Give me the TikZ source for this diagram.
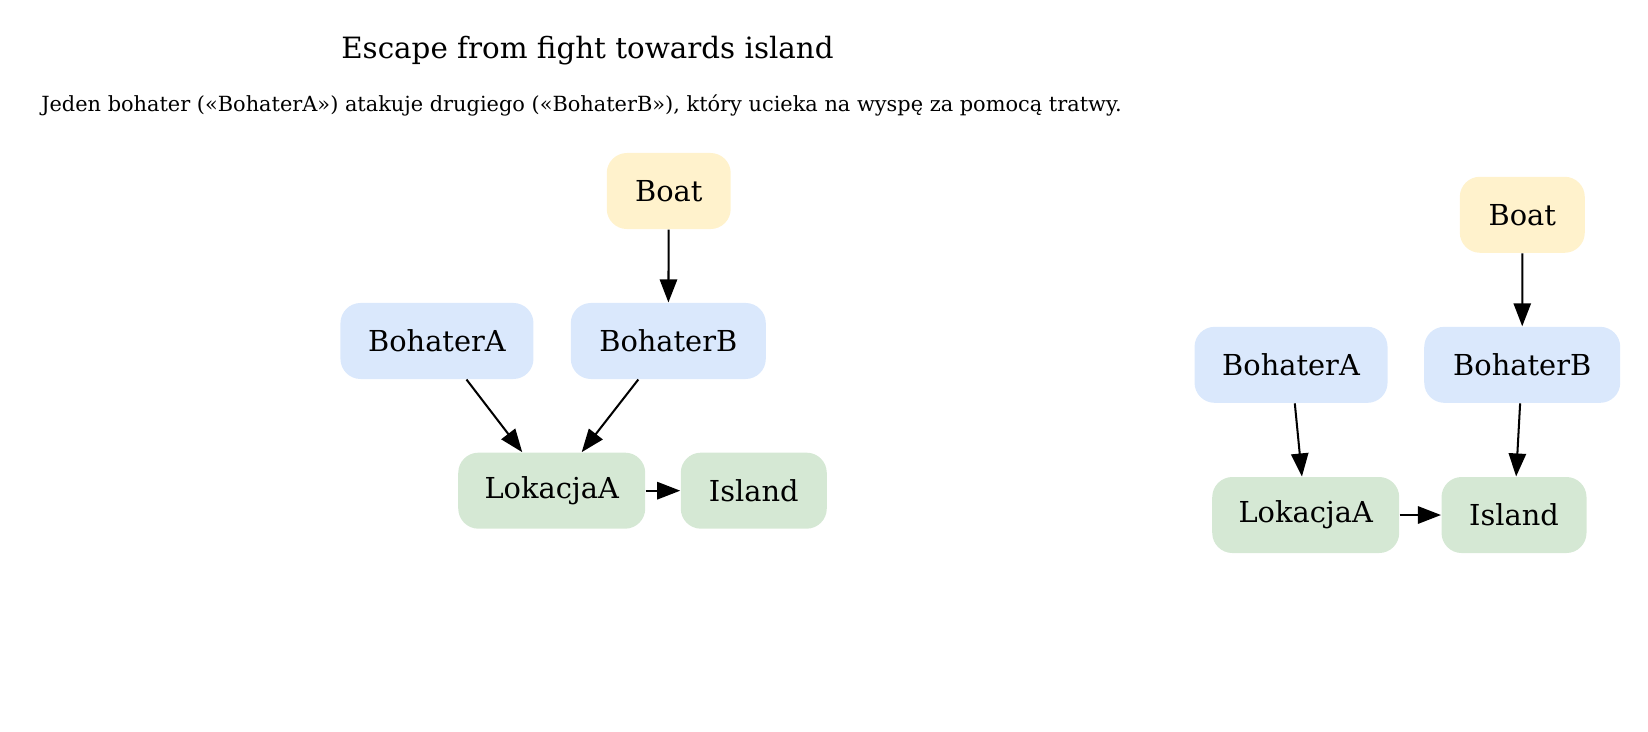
\documentclass[tikz,border=0pt]{standalone}
\usepackage{fontspec}
\setmainfont{DejaVu Serif}
\usetikzlibrary{arrows.meta}
\definecolor{boatc}{HTML}{FFF2CC}
\definecolor{heroc}{HTML}{DAE8FC}
\definecolor{placec}{HTML}{D5E8D4}

\begin{document}
\begin{tikzpicture}[
  box/.style={rounded corners=0.28cm,minimum height=1.056cm,inner sep=0pt,font=\fontsize{11.4}{13}\selectfont},
  boat/.style={box,fill=boatc},
  hero/.style={box,fill=heroc},
  place/.style={box,fill=placec},
  link/.style={-{Triangle[length=0.32cm,width=0.24cm]},line width=0.8pt}
]
\useasboundingbox (0,0) rectangle (22.889,-10.153);

\node (T) at (8.160,-0.810) [anchor=base,font=\fontsize{11.6}{14}\selectfont] {Escape from fight towards island};
\node (S) at (8.076,-1.553) [anchor=base,font=\fontsize{8.25}{10}\selectfont] {Jeden bohater («BohaterA») atakuje drugiego («BohaterB»), który ucieka na wyspę za pomocą tratwy.};

% left graph
\node (B1) at (9.288,-2.653) [boat,minimum width=1.722cm] {Boat};
\node (HA1) at (6.069,-4.736) [hero,minimum width=2.681cm] {BohaterA};
\node (HB1) at (9.282,-4.736) [hero,minimum width=2.708cm] {BohaterB};
\node (LA1) at (7.663,-6.815) [place,minimum width=2.597cm] {LokacjaA};
\node (I1) at (10.469,-6.815) [place,minimum width=2.028cm] {Island};

\draw [link] (B1) -- (HB1);
\draw [link] (HA1) -- (LA1);
\draw [link] (HB1) -- (LA1);
\draw [link] (LA1) -- (I1);

% right graph
\node (B2) at (21.143,-2.983) [boat,minimum width=1.736cm] {Boat};
\node (HA2) at (17.931,-5.067) [hero,minimum width=2.681cm] {BohaterA};
\node (HB2) at (21.142,-5.067) [hero,minimum width=2.722cm] {BohaterB};
\node (LA2) at (18.135,-7.153) [place,minimum width=2.597cm] {LokacjaA};
\node (I2) at (21.028,-7.153) [place,minimum width=2.014cm] {Island};

\draw [link] (B2) -- (HB2);
\draw [link] (HA2) -- (LA2);
\draw [link] (HB2) -- (I2);
\draw [link] (LA2) -- (I2);

\end{tikzpicture}
\end{document}
